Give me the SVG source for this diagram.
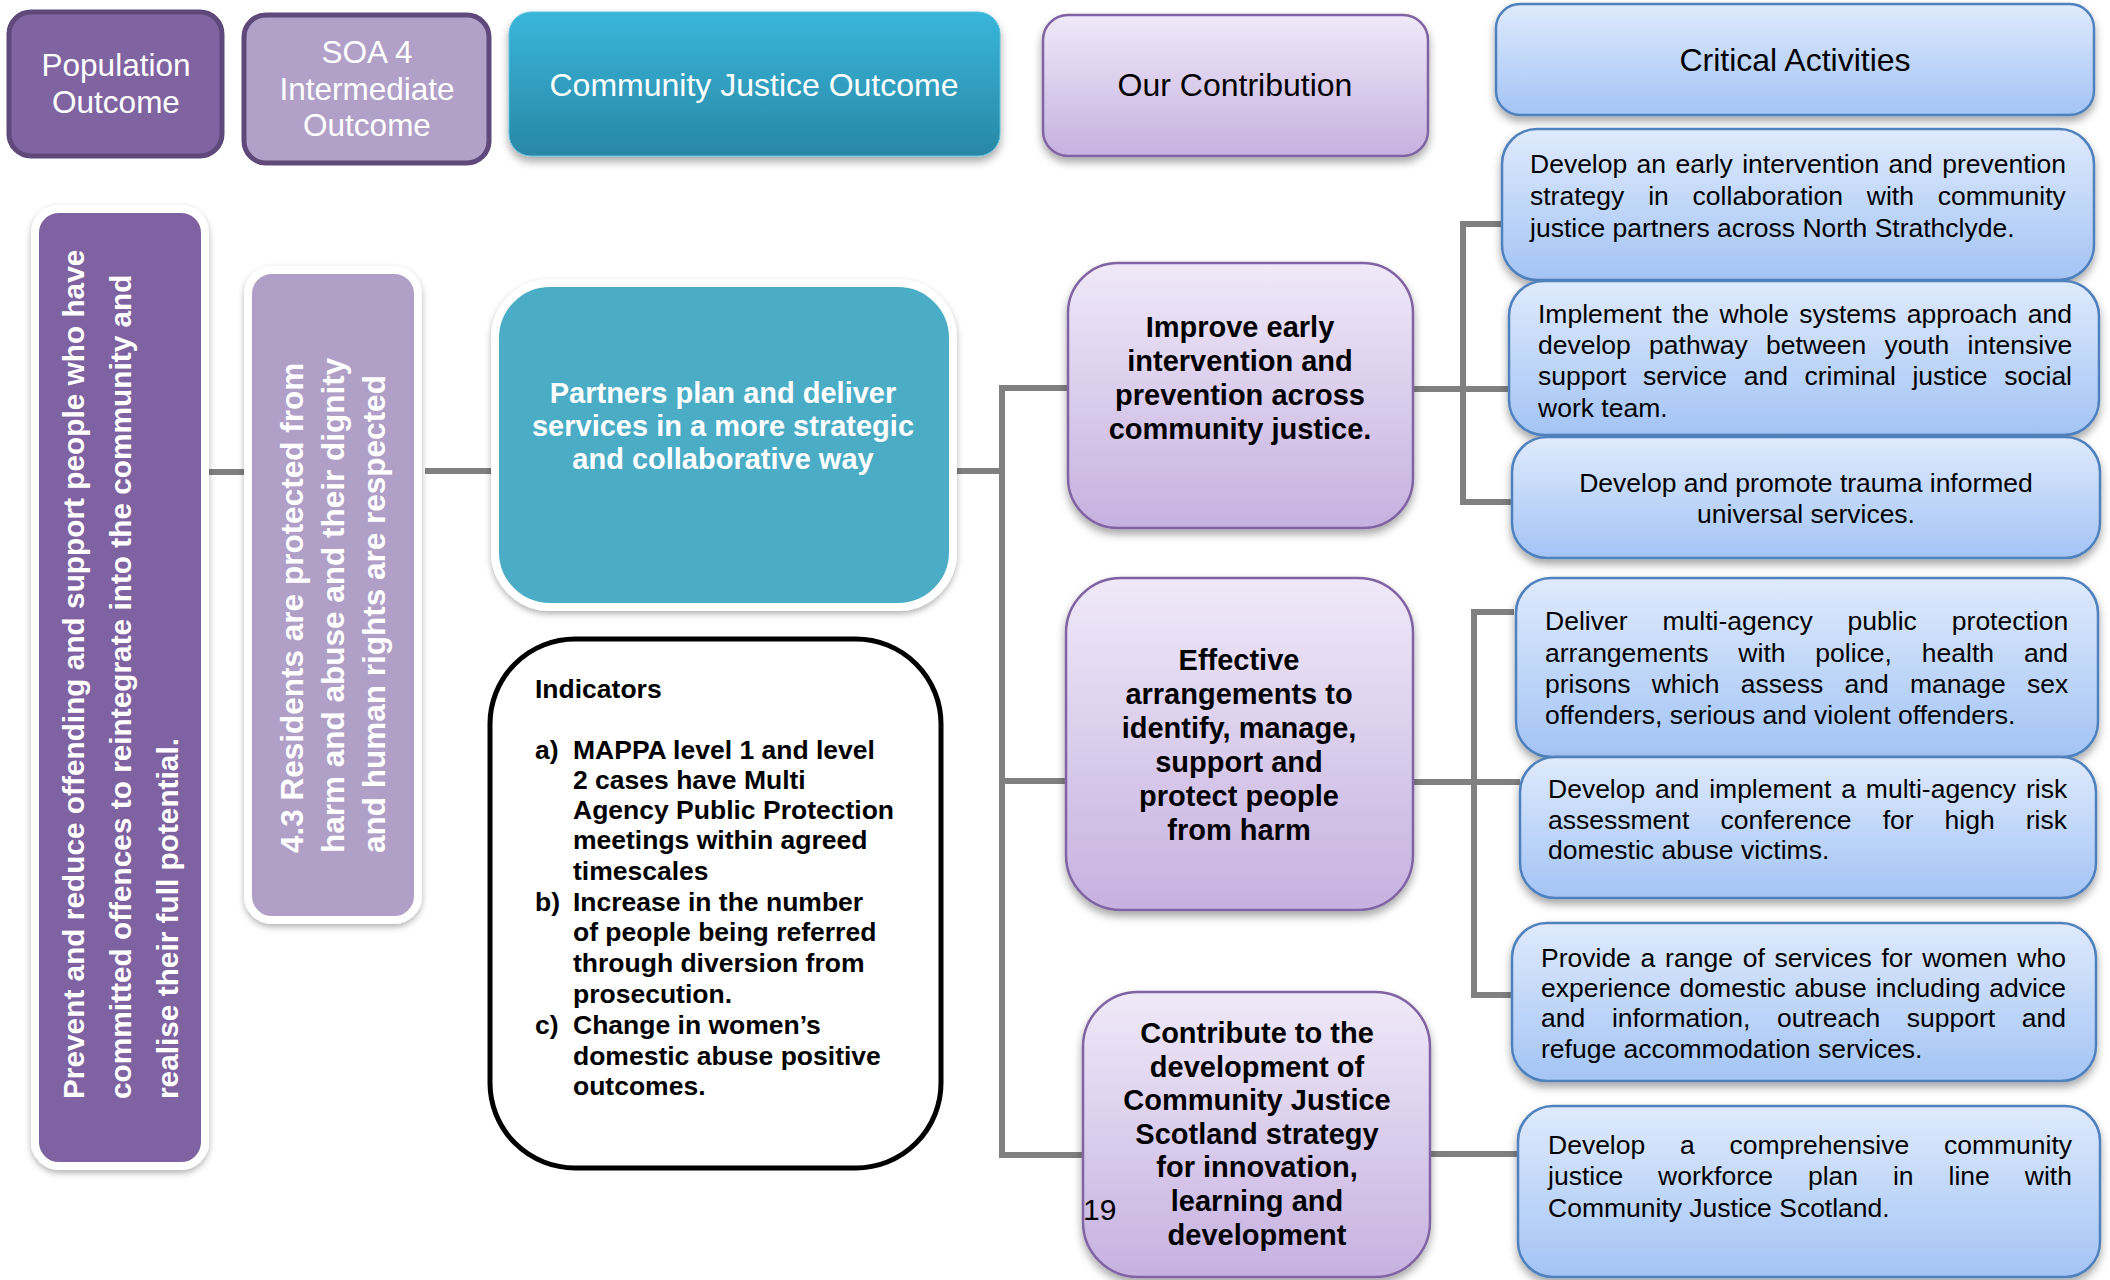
<svg xmlns="http://www.w3.org/2000/svg" width="2110" height="1280" viewBox="0 0 2110 1280">
<defs>
<linearGradient id="gLav" x1="0" y1="0" x2="0" y2="1"><stop offset="0" stop-color="#efe9f8"/><stop offset="1" stop-color="#c6b1e0"/></linearGradient>
<linearGradient id="gBlue" x1="0" y1="0" x2="0" y2="1"><stop offset="0" stop-color="#dfeafc"/><stop offset="1" stop-color="#a3c4f5"/></linearGradient>
<linearGradient id="gTeal" x1="0" y1="0" x2="0" y2="1"><stop offset="0" stop-color="#38b6da"/><stop offset="1" stop-color="#2987a5"/></linearGradient>
<filter id="sh" x="-10%" y="-10%" width="120%" height="130%"><feDropShadow dx="0" dy="5" stdDeviation="4" flood-color="#000" flood-opacity="0.35"/></filter>
<filter id="sh2" x="-10%" y="-10%" width="120%" height="120%"><feDropShadow dx="0" dy="3" stdDeviation="3" flood-color="#000" flood-opacity="0.3"/></filter>
</defs>
<style>
.t{font-family:"Liberation Sans",Arial,sans-serif}
.conn{stroke:#808080;stroke-width:6;fill:none}
.lav{fill:url(#gLav);stroke:#8064a2;stroke-width:2.5}
.blue{fill:url(#gBlue);stroke:#4f81bd;stroke-width:2.5}
.hd{font-size:31.5px;fill:#fff;text-anchor:middle}
.hdk{font-size:32px;fill:#000;text-anchor:middle}
.bt{font-size:29px;font-weight:bold;fill:#000;text-anchor:middle}
.wt{font-size:29px;font-weight:bold;fill:#fff;text-anchor:middle}
.ct{font-size:26.5px;fill:#000}
.ind{font-size:26.5px;font-weight:bold;fill:#000}
.vt{font-size:29.8px;font-weight:bold;fill:#fff}
.vt2{font-size:31.5px;font-weight:bold;fill:#fff}
</style>

<g id="connectors">
<path class="conn" d="M205,472 H246"/>
<path class="conn" d="M425,471 H493"/>
<path class="conn" d="M955,471 H1002"/>
<path class="conn" d="M1068,388 H1002 V1155 H1087 M1002,781 H1074"/>
<path class="conn" d="M1413,389 H1508"/>
<path class="conn" d="M1508,224 H1463 V502 H1512"/>
<path class="conn" d="M1413,782 H1520"/>
<path class="conn" d="M1514,612 H1474 V995 H1514"/>
<path class="conn" d="M1430,1154 H1520"/>
</g>

<g id="population-outcome">
<rect x="9" y="12" width="213" height="144" rx="22" fill="#8064a2" stroke="#5f497a" stroke-width="5"/>
<text class="t hd" x="116" y="76">Population</text>
<text class="t hd" x="116" y="113">Outcome</text>
</g>

<g id="soa4">
<rect x="244" y="15" width="245" height="148" rx="22" fill="#b1a0c7" stroke="#5f497a" stroke-width="5"/>
<text class="t hd" x="367" y="63">SOA 4</text>
<text class="t hd" x="367" y="100">Intermediate</text>
<text class="t hd" x="367" y="136">Outcome</text>
</g>

<g id="cj-outcome">
<rect x="509" y="12" width="491" height="144" rx="22" fill="url(#gTeal)" stroke="#5bc0de" stroke-width="1" filter="url(#sh)"/>
<text class="t hd" x="754" y="96" style="font-size:32px">Community Justice Outcome</text>
</g>

<g id="our-contribution">
<rect x="1043" y="15" width="385" height="141" rx="25" class="lav" filter="url(#sh)"/>
<text class="t hdk" x="1235" y="96">Our Contribution</text>
</g>

<g id="critical-activities">
<rect x="1496" y="4" width="598" height="111" rx="24" class="blue" filter="url(#sh)"/>
<text class="t hdk" x="1795" y="71">Critical Activities</text>
</g>

<g id="population-statement">
<rect x="35" y="209" width="170" height="957" rx="24" fill="#7f62a1" stroke="#fff" stroke-width="8" filter="url(#sh2)"/>
<text class="t vt" transform="translate(84,1099) rotate(-90)">Prevent and reduce offending and support people who have</text>
<text class="t vt" transform="translate(131,1099) rotate(-90)">committed offences to reintegrate into the community and</text>
<text class="t vt" transform="translate(178,1099) rotate(-90)">realise their full potential.</text>
</g>

<g id="intermediate-statement">
<rect x="248" y="270" width="170" height="650" rx="24" fill="#b09fc7" stroke="#fff" stroke-width="8" filter="url(#sh2)"/>
<text class="t vt2" transform="translate(303,853) rotate(-90)">4.3 Residents are protected from</text>
<text class="t vt2" transform="translate(344,853) rotate(-90)">harm and abuse and their dignity</text>
<text class="t vt2" transform="translate(385,853) rotate(-90)">and human rights are respected</text>
</g>

<g id="partners">
<rect x="495" y="283" width="458" height="324" rx="55" fill="#4bacc6" stroke="#fff" stroke-width="8" filter="url(#sh2)"/>
<text class="t wt" x="723" y="403">Partners plan and deliver</text>
<text class="t wt" x="723" y="436">services in a more strategic</text>
<text class="t wt" x="723" y="469">and collaborative way</text>
</g>

<g id="indicators">
<rect x="490" y="639" width="451" height="529" rx="85" fill="#fff" stroke="#000" stroke-width="5"/>
<text class="t ind" x="535" y="698">Indicators</text>
<text class="t ind" x="535" y="759">a)</text>
<text class="t ind" x="573" y="759">MAPPA level 1 and level</text>
<text class="t ind" x="573" y="789">2 cases have Multi</text>
<text class="t ind" x="573" y="819">Agency Public Protection</text>
<text class="t ind" x="573" y="849">meetings within agreed</text>
<text class="t ind" x="573" y="880">timescales</text>
<text class="t ind" x="535" y="911">b)</text>
<text class="t ind" x="573" y="911">Increase in the number</text>
<text class="t ind" x="573" y="941">of people being referred</text>
<text class="t ind" x="573" y="972">through diversion from</text>
<text class="t ind" x="573" y="1003">prosecution.</text>
<text class="t ind" x="535" y="1034">c)</text>
<text class="t ind" x="573" y="1034">Change in women’s</text>
<text class="t ind" x="573" y="1065">domestic abuse positive</text>
<text class="t ind" x="573" y="1095">outcomes.</text>
</g>

<g id="improve-early">
<rect x="1068" y="263" width="345" height="265" rx="50" class="lav" filter="url(#sh)"/>
<text class="t bt" x="1240" y="337">Improve early</text>
<text class="t bt" x="1240" y="371">intervention and</text>
<text class="t bt" x="1240" y="405">prevention across</text>
<text class="t bt" x="1240" y="439">community justice.</text>
</g>

<g id="effective-arrangements">
<rect x="1066" y="578" width="347" height="332" rx="55" class="lav" filter="url(#sh)"/>
<text class="t bt" x="1239" y="670">Effective</text>
<text class="t bt" x="1239" y="704">arrangements to</text>
<text class="t bt" x="1239" y="738">identify, manage,</text>
<text class="t bt" x="1239" y="772">support and</text>
<text class="t bt" x="1239" y="806">protect people</text>
<text class="t bt" x="1239" y="840">from harm</text>
</g>

<g id="contribute">
<rect x="1083" y="992" width="347" height="285" rx="55" class="lav" filter="url(#sh)"/>
<text class="t bt" x="1257" y="1043">Contribute to the</text>
<text class="t bt" x="1257" y="1077">development of</text>
<text class="t bt" x="1257" y="1110">Community Justice</text>
<text class="t bt" x="1257" y="1144">Scotland strategy</text>
<text class="t bt" x="1257" y="1177">for innovation,</text>
<text class="t bt" x="1257" y="1211">learning and</text>
<text class="t bt" x="1257" y="1245">development</text>
</g>

<g id="page-number">
<text class="t" x="1083" y="1220" font-size="30" fill="#000">19</text>
</g>

<g id="act-a1">
<rect x="1502" y="129" width="592" height="151" rx="35" class="blue" filter="url(#sh)"/>
<text class="t ct" x="1530" y="173" word-spacing="2">Develop an early intervention and prevention</text>
<text class="t ct" x="1530" y="205" word-spacing="16.5">strategy in collaboration with community</text>
<text class="t ct" x="1530" y="237">justice partners across North Strathclyde.</text>
</g>

<g id="act-a2">
<rect x="1509" y="281" width="590" height="154" rx="35" class="blue" filter="url(#sh)"/>
<text class="t ct" x="1538" y="323" word-spacing="3.1">Implement the whole systems approach and</text>
<text class="t ct" x="1538" y="354" word-spacing="10.9">develop pathway between youth intensive</text>
<text class="t ct" x="1538" y="385" word-spacing="9.3">support service and criminal justice social</text>
<text class="t ct" x="1538" y="417">work team.</text>
</g>

<g id="act-a3">
<rect x="1512" y="437" width="588" height="121" rx="35" class="blue" filter="url(#sh)"/>
<text class="t ct" x="1806" y="492" text-anchor="middle">Develop and promote trauma informed</text>
<text class="t ct" x="1806" y="523" text-anchor="middle">universal services.</text>
</g>

<g id="act-b1">
<rect x="1516" y="578" width="582" height="179" rx="35" class="blue" filter="url(#sh)"/>
<text class="t ct" x="1545" y="630" word-spacing="27.6">Deliver multi-agency public protection</text>
<text class="t ct" x="1545" y="662" word-spacing="22.5">arrangements with police, health and</text>
<text class="t ct" x="1545" y="693" word-spacing="13.9">prisons which assess and manage sex</text>
<text class="t ct" x="1545" y="724">offenders, serious and violent offenders.</text>
</g>

<g id="act-b2">
<rect x="1520" y="757" width="576" height="141" rx="35" class="blue" filter="url(#sh)"/>
<text class="t ct" x="1548" y="798" word-spacing="2.5">Develop and implement a multi-agency risk</text>
<text class="t ct" x="1548" y="829" word-spacing="23.7">assessment conference for high risk</text>
<text class="t ct" x="1548" y="859">domestic abuse victims.</text>
</g>

<g id="act-b3">
<rect x="1512" y="923" width="584" height="158" rx="35" class="blue" filter="url(#sh)"/>
<text class="t ct" x="1541" y="967" word-spacing="2.4">Provide a range of services for women who</text>
<text class="t ct" x="1541" y="997" word-spacing="1.6">experience domestic abuse including advice</text>
<text class="t ct" x="1541" y="1027" word-spacing="19.3">and information, outreach support and</text>
<text class="t ct" x="1541" y="1058">refuge accommodation services.</text>
</g>

<g id="act-c1">
<rect x="1518" y="1106" width="582" height="171" rx="35" class="blue" filter="url(#sh)"/>
<text class="t ct" x="1548" y="1154" word-spacing="27.4">Develop a comprehensive community</text>
<text class="t ct" x="1548" y="1185" word-spacing="27.6">justice workforce plan in line with</text>
<text class="t ct" x="1548" y="1217">Community Justice Scotland.</text>
</g>
</svg>
